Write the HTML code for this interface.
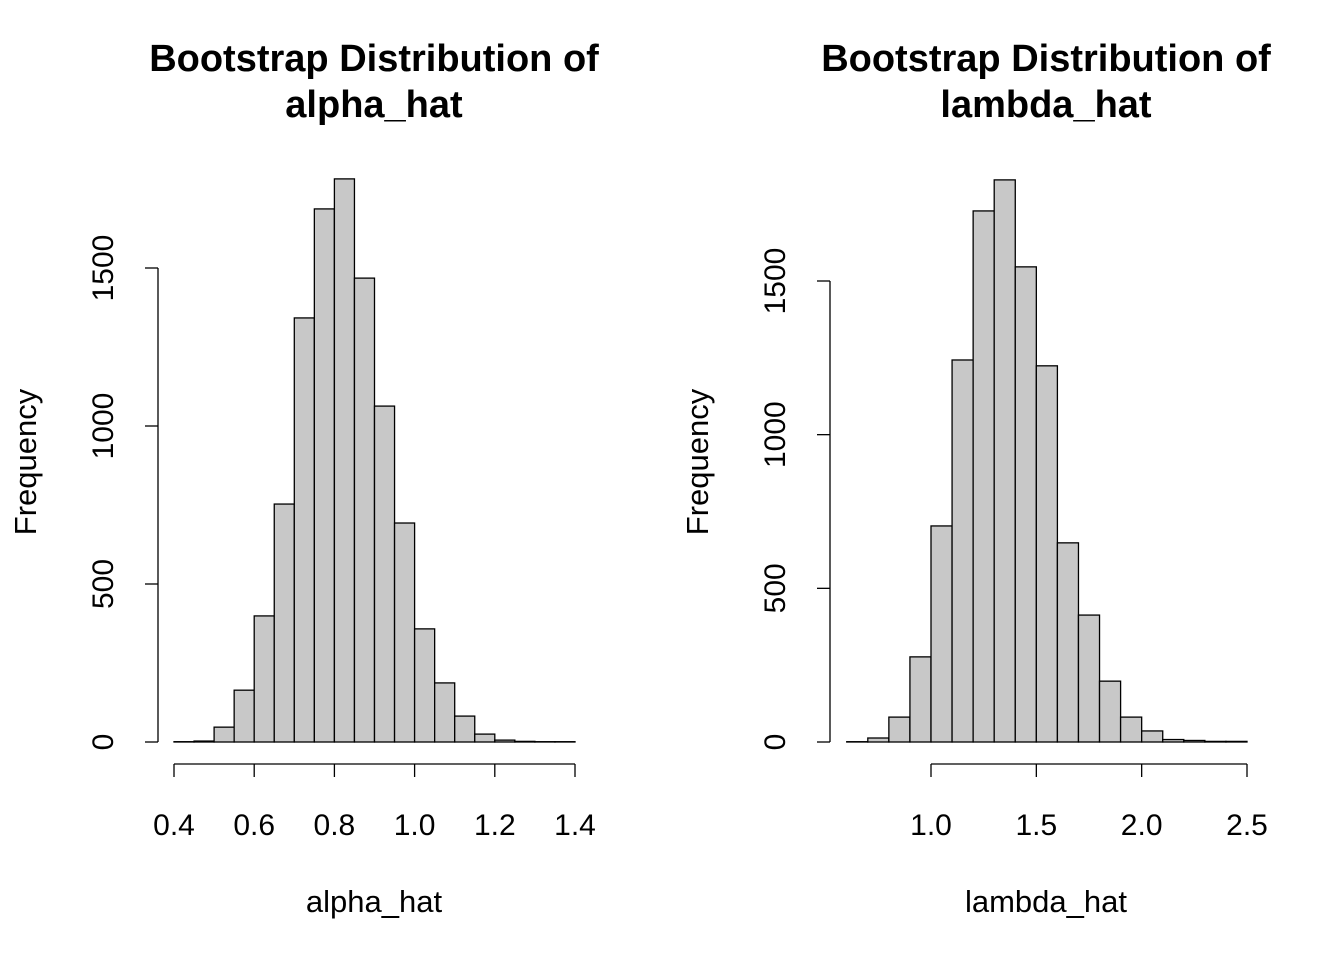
<!DOCTYPE html>
<html><head><meta charset="utf-8"><style>
html,body{margin:0;padding:0;background:#fff}
svg{display:block;font-family:"Liberation Sans",Arial,sans-serif}
</style></head><body>
<svg id="chart" width="1344" height="960" viewBox="0 0 1344 960"></svg>
<script>
const alphaBreaksStart = 0.40;
const alphaBinWidth = 0.05;
const alphaCounts = [1,3,47,164,399,753,1342,1687,1782,1468,1063,693,358,187,82,25,6,2,1,1];
const alphaXTicks = [0.4,0.6,0.8,1.0,1.2,1.4];
const alphaYTicks = [0,500,1000,1500];

const lambdaBreaksStart = 0.6;
const lambdaBinWidth = 0.1;
const lambdaCounts = [1,13,81,277,703,1243,1728,1829,1546,1224,648,413,198,81,36,8,5,2,2];
const lambdaXTicks = [1.0,1.5,2.0,2.5];
const lambdaYTicks = [0,500,1000,1500];

const NS = "http://www.w3.org/2000/svg";
const svg = document.getElementById('chart');
function mk(tag, attrs, parent, text){
  const e = document.createElementNS(NS, tag);
  for (const k in attrs) e.setAttribute(k, attrs[k]);
  if (text !== undefined) e.textContent = text;
  (parent||svg).appendChild(e);
  return e;
}

function panel(cfg){
  const g = mk('g', {});
  
  
  const x = v => cfg.x0px + (v - cfg.x0) * cfg.xScale;
  const y = v => cfg.y0px - v * cfg.yScale;
  cfg.counts.forEach((c, i) => {
    const a = cfg.start + i * cfg.bw, b = a + cfg.bw;
    const r = mk('rect', {x:x(a), y:y(c), width:x(b)-x(a), height:y(0)-y(c), fill:'#c8c8c8', stroke:'#000', 'stroke-width':1.3}, g);
    
    
  });
  const ya = mk('g', {}, g);
  
  
  const yt = cfg.yTicks;
  mk('line', {x1:cfg.yAxisX, x2:cfg.yAxisX, y1:y(yt[0]), y2:y(yt[yt.length-1]), stroke:'#000','stroke-width':1.3}, ya);
  yt.forEach(t => {
    mk('line', {x1:cfg.yAxisX-13, x2:cfg.yAxisX, y1:y(t), y2:y(t), stroke:'#000','stroke-width':1.3}, ya);
    const tx = cfg.yAxisX - 45;
    const lab = mk('text', {x:tx, y:y(t), 'font-size':30, 'text-anchor':'middle', transform:`rotate(-90 ${tx} ${y(t)})`}, ya, String(t));
    
    
  });
  const xa = mk('g', {}, g);
  
  
  const xt = cfg.xTicks;
  mk('line', {x1:x(xt[0]), x2:x(xt[xt.length-1]), y1:764, y2:764, stroke:'#000','stroke-width':1.3}, xa);
  xt.forEach(t => {
    mk('line', {x1:x(t), x2:x(t), y1:764, y2:777, stroke:'#000','stroke-width':1.3}, xa);
    const lab = mk('text', {x:x(t), y:835, 'font-size':30, 'text-anchor':'middle'}, xa, t.toFixed(1));
    
    
  });
  const xl = mk('text', {x:cfg.cx, y:912, 'font-size':31, 'text-anchor':'middle'}, g, cfg.xlabel);
  
  
  const fx = cfg.freqX;
  const yl = mk('text', {x:fx, y:462, 'font-size':31, 'text-anchor':'middle', transform:`rotate(-90 ${fx} 462)`}, g, 'Frequency');
  
  
  const t1 = mk('text', {x:cfg.cx, y:71, 'font-size':38, 'font-weight':'bold', 'text-anchor':'middle'}, g, 'Bootstrap Distribution of');
  
  
  const t2 = mk('text', {x:cfg.cx, y:117, 'font-size':38, 'font-weight':'bold', 'text-anchor':'middle'}, g, cfg.xlabel);
  
  
}

panel({name:'alpha-hat-panel', counts:alphaCounts, start:alphaBreaksStart, bw:alphaBinWidth,
  x0:0.4, x0px:174, xScale:401, y0px:742, yScale:474/1500, yAxisX:158,
  xTicks:alphaXTicks, yTicks:alphaYTicks, xlabel:'alpha_hat', cx:374, freqX:36});
panel({name:'lambda-hat-panel', counts:lambdaCounts, start:lambdaBreaksStart, bw:lambdaBinWidth,
  x0:1.0, x0px:931, xScale:316/1.5, y0px:742, yScale:461/1500, yAxisX:830,
  xTicks:lambdaXTicks, yTicks:lambdaYTicks, xlabel:'lambda_hat', cx:1046, freqX:708});
</script>
</body></html>
